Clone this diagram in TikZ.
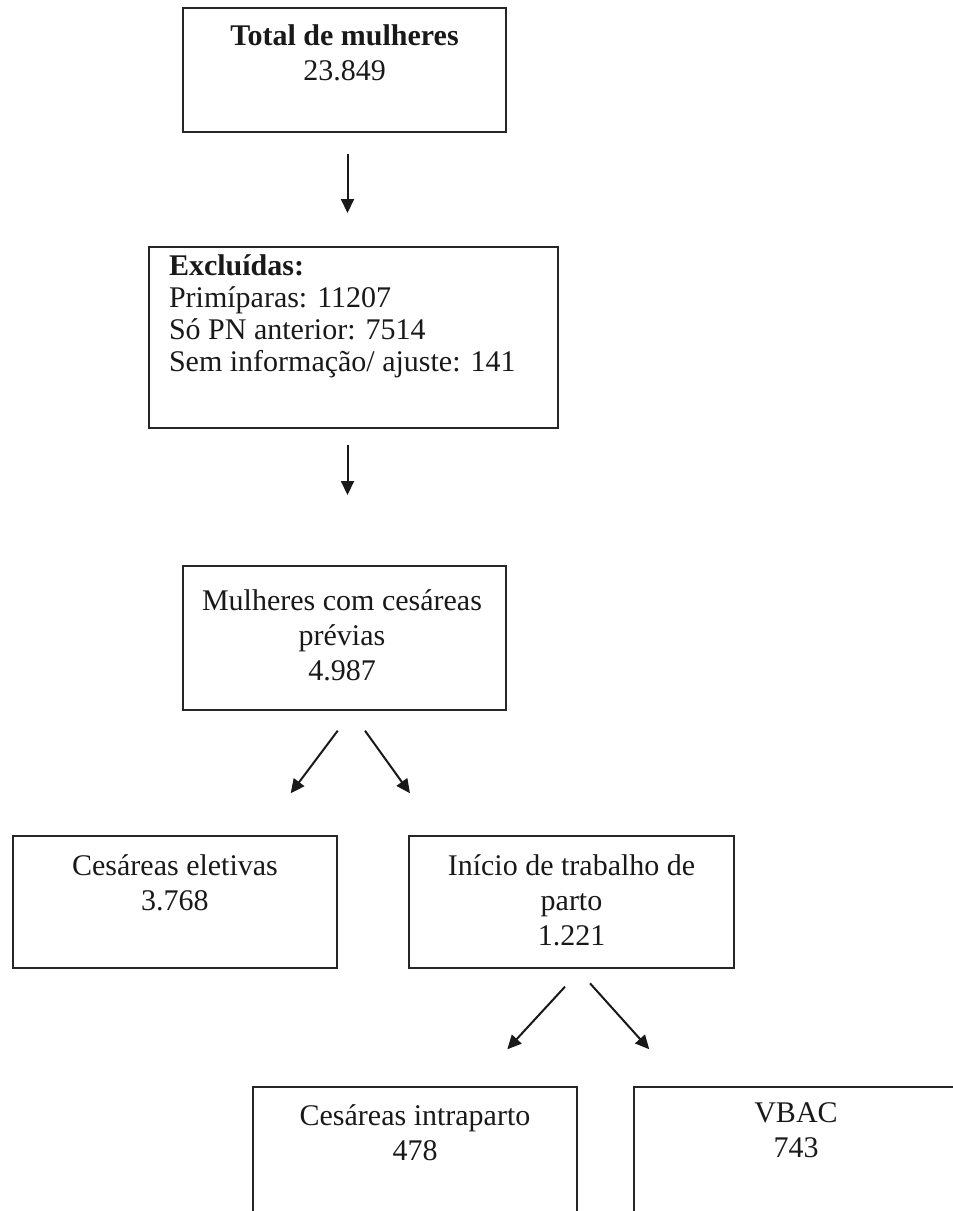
\documentclass[tikz,border=0pt]{standalone}
\usepackage{fontspec}
\setmainfont{Liberation Serif}
\usetikzlibrary{arrows.meta}
\begin{document}
\begin{tikzpicture}[x=0.5pt,y=-0.5pt,
  box/.style={draw=black!85,line width=1.2pt,inner sep=0pt,outer sep=0pt,anchor=north west},
  txt/.style={inner sep=0pt,outer sep=0pt,align=center,anchor=north,text=black!90,font=\fontsize{15pt}{17.5pt}\selectfont},
  arr/.style={draw=black!90,line width=1pt,-{Triangle[length=7pt,width=6.5pt]}}]
\path[use as bounding box] (0,0) rectangle (953,1211);
\clip (0,0) rectangle (953,1211);
% boxes
\node[box,minimum width=161.5pt,minimum height=62pt] (b1) at (183,8) {};
\node[box,minimum width=204.5pt,minimum height=90.5pt] (b2) at (149,247) {};
\node[box,minimum width=161.5pt,minimum height=72pt] (b3) at (183,566) {};
\node[box,minimum width=162pt,minimum height=66pt] (b4) at (13,836) {};
\node[box,minimum width=162.5pt,minimum height=66pt] (b5) at (409,836) {};
\node[box,minimum width=162pt,minimum height=100pt] (b6) at (253,1087) {};
\node[box,minimum width=162pt,minimum height=100pt] (b7) at (634,1087) {};
% texts
\node[txt] (t1) at (344.5,24.5) {\textbf{Total de mulheres}\\23.849};
\node[txt,align=left,anchor=north west,font=\fontsize{15pt}{16pt}\selectfont] (t2) at (169,255)
  {\textbf{Excluídas:}\\Primíparas: 11207\\Só PN anterior: 7514\\Sem informação/ ajuste: 141};
\node[txt] (t3) at (342,589.5) {Mulheres com cesáreas\\prévias\\4.987};
\node[txt] (t4) at (175,854.5) {Cesáreas eletivas\\3.768};
\node[txt] (t5) at (571.5,854.5) {Início de trabalho de\\parto\\1.221};
\node[txt] (t6) at (415,1104.5) {Cesáreas intraparto\\478};
\node[txt] (t7) at (796,1102.5) {VBAC\\743};
% arrow ends
\coordinate (a1s) at (347.5,154); \coordinate (a1e) at (347.5,213);
\coordinate (a2s) at (347.5,445); \coordinate (a2e) at (347.5,495);
\coordinate (a3s) at (337.7,730.7); \coordinate (a3e) at (290.7,793.3);
\coordinate (a4s) at (365,730.7); \coordinate (a4e) at (410,793.3);
\coordinate (a5s) at (565,986.7); \coordinate (a5e) at (507.3,1049.3);
\coordinate (a6s) at (590,983.3); \coordinate (a6e) at (649.3,1049.3);
\draw[arr] (a1s) -- (a1e);
\draw[arr] (a2s) -- (a2e);
\draw[arr] (a3s) -- (a3e);
\draw[arr] (a4s) -- (a4e);
\draw[arr] (a5s) -- (a5e);
\draw[arr] (a6s) -- (a6e);
\end{tikzpicture}
\end{document}
